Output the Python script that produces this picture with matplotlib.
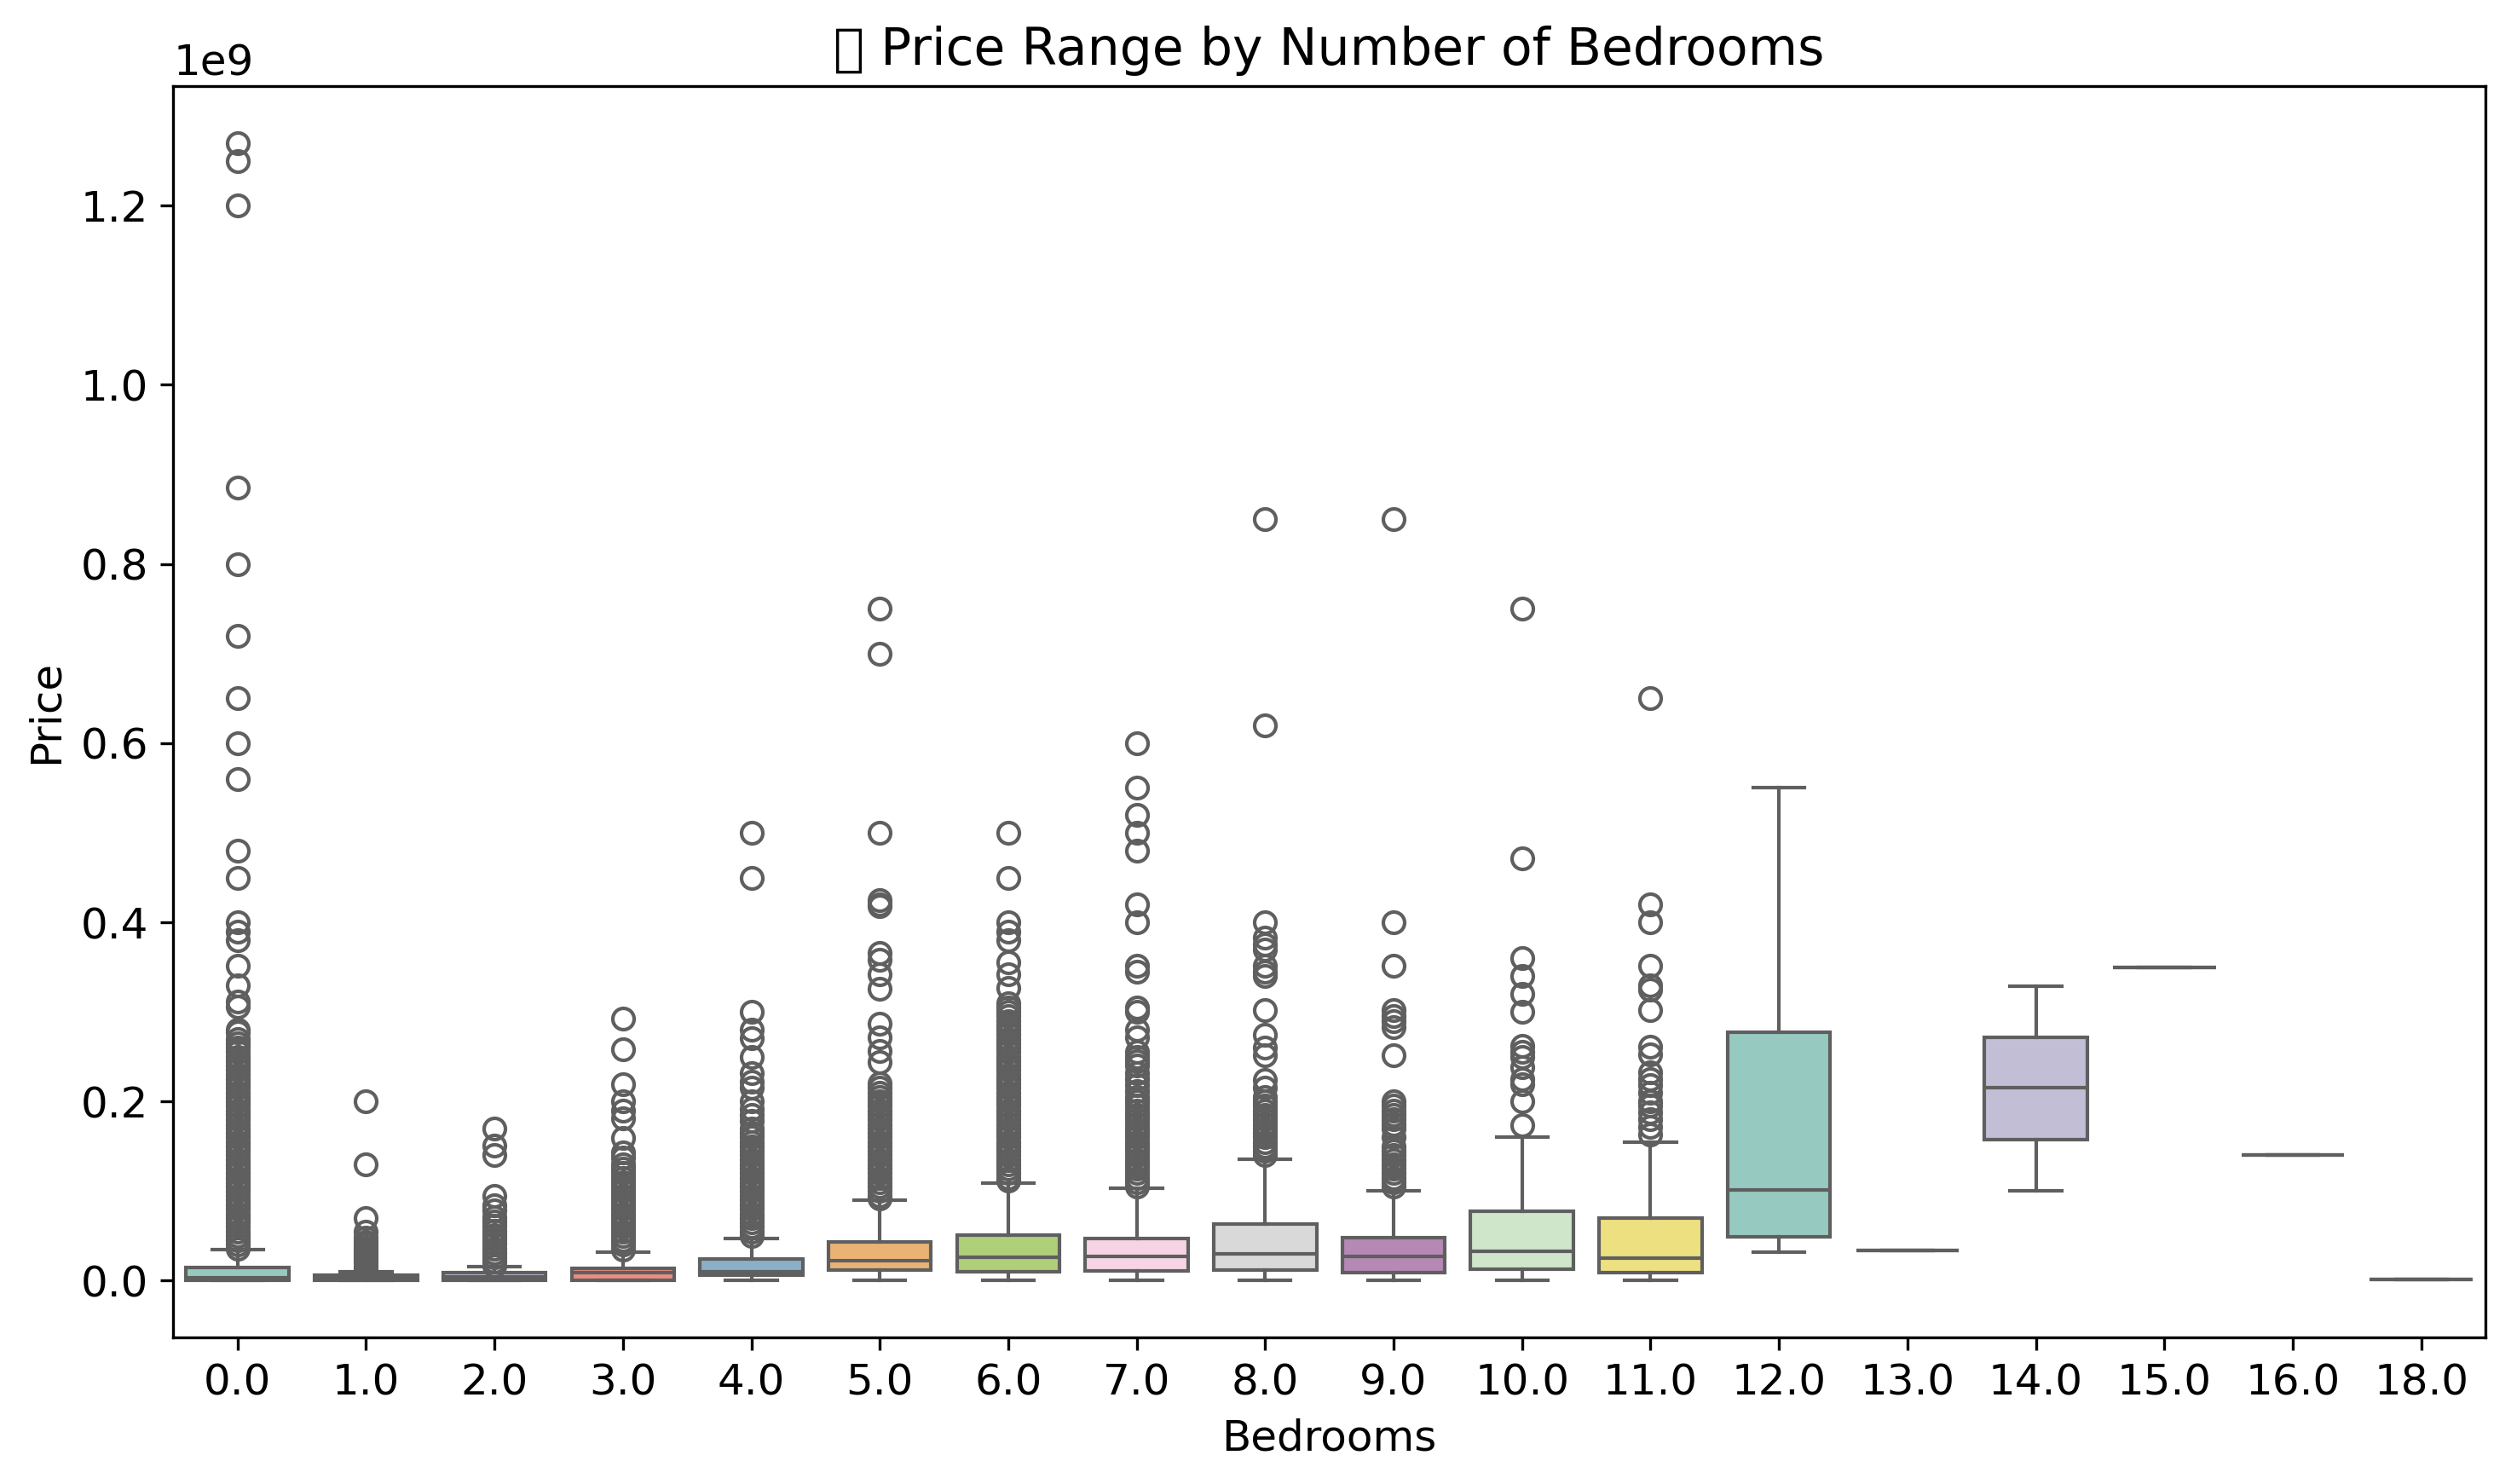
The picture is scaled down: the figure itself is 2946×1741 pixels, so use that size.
import matplotlib
matplotlib.use("Agg")
import matplotlib.pyplot as plt
import seaborn as sns

plt.rcParams["font.size"] = 12

# bedroom categories as they appear on the x axis
bedrooms = [0.0, 1.0, 2.0, 3.0, 4.0, 5.0, 6.0, 7.0, 8.0, 9.0, 10.0, 11.0,
            12.0, 13.0, 14.0, 15.0, 16.0, 18.0]

# box statistics, in millions
whislo = [0, 0, 0, 0, 0.6, 0.6, 0, 0, 0, 0, 0, 0, 31.4, 33.6, 100, 350, 140, 1.3]
q1 = [0.3, 0.3, 0.5, 0.3, 6, 11.6, 10, 11, 11.6, 9.4, 12.6, 8.5, 49.3, 33.6, 157.6, 350, 140, 1.3]
med = [3, 2, 4, 8.5, 10, 22, 25.7, 26.7, 29.8, 26.7, 32.3, 25.1, 101, 33.6, 215.7, 350, 140, 1.3]
q3 = [14.5, 6, 8.5, 14, 24, 43.6, 50.5, 47.4, 62.8, 47.7, 77.5, 69.7, 277.6, 33.6, 272, 350, 140, 1.3]
whishi = [34.4, 10, 15.7, 31.7, 46.8, 90, 109, 103, 135.3, 100, 159.8, 155, 550, 33.6, 329, 350, 140, 1.3]

# outliers, in millions
fliers = [
    [1270, 1250, 1200, 885, 800, 720, 650, 600, 560, 480, 450, 400, 390, 380,
     352, 330, 312, 306, 280, 277, 270, 265, 260, 255, 250, 245, 240, 235, 230,
     225, 220, 215, 210, 205, 200, 195, 190, 185, 180, 175, 170, 165, 160, 155,
     150, 145, 140, 135, 130, 125, 120, 115, 110, 105, 100, 95, 90, 85, 80, 75,
     70, 65, 60, 55, 50, 45, 40, 36],
    [200, 130, 70, 55, 48, 43, 40, 37, 34, 31, 28, 25, 22, 19, 16, 13],
    [170, 151, 140, 95, 84, 78, 71, 66, 61, 56, 51, 46, 41, 36, 31, 26, 21, 17],
    [293, 258, 219, 200, 190, 181, 159, 143, 137, 130, 125, 120, 115, 110, 105,
     100, 95, 90, 85, 80, 75, 70, 65, 60, 55, 50, 45, 40, 35],
    [500, 450, 300, 280, 271, 250, 232, 222, 215, 200, 192, 185, 178, 170, 165,
     160, 155, 150, 145, 140, 135, 130, 125, 120, 115, 110, 105, 100, 95, 90,
     85, 80, 75, 70, 65, 60, 55, 50],
    [750, 700, 500, 425, 420, 418, 366, 358, 342, 326, 287, 272, 256, 244, 220,
     215, 210, 205, 200, 195, 190, 185, 180, 175, 170, 165, 160, 155, 150, 145,
     140, 135, 130, 125, 120, 115, 110, 105, 100, 95, 92],
    [500, 450, 400, 390, 380, 355, 342, 327, 310, 305, 300, 295, 290, 285, 280,
     275, 270, 265, 260, 255, 250, 245, 240, 235, 230, 225, 220, 215, 210, 205,
     200, 195, 190, 185, 180, 175, 170, 165, 160, 155, 150, 145, 140, 135, 130,
     125, 120, 115, 112],
    [600, 550, 520, 500, 480, 420, 400, 352, 345, 305, 300, 280, 272, 255, 250,
     245, 240, 232, 225, 218, 212, 205, 200, 195, 190, 185, 180, 175, 170, 165,
     160, 155, 150, 145, 140, 135, 130, 125, 120, 115, 110, 105],
    [850, 620, 400, 383, 375, 370, 352, 345, 340, 302, 274, 260, 252, 224, 215,
     205, 200, 195, 190, 185, 180, 175, 170, 165, 160, 155, 150, 145, 140],
    [850, 400, 352, 302, 295, 290, 283, 252, 200, 195, 190, 185, 180, 175, 170,
     160, 150, 145, 140, 135, 130, 125, 120, 115, 110, 105],
    [750, 471, 360, 340, 320, 300, 262, 255, 250, 238, 225, 219, 200, 174],
    [650, 420, 400, 352, 330, 325, 302, 261, 253, 233, 225, 218, 210, 200, 195,
     188, 180, 172, 163],
    [], [], [], [], [], [],
]

palette = sns.color_palette("Set3", 12)
line_color = "#5f5f5f"

stats = []
for i in range(len(bedrooms)):
    stats.append({
        "whislo": whislo[i] * 1e6, "q1": q1[i] * 1e6, "med": med[i] * 1e6,
        "q3": q3[i] * 1e6, "whishi": whishi[i] * 1e6,
        "fliers": [v * 1e6 for v in fliers[i]],
    })

fig, ax = plt.subplots(figsize=(10, 6))
bp = ax.bxp(stats, positions=range(len(bedrooms)), widths=0.8,
            patch_artist=True, capwidths=0.4,
            boxprops=dict(edgecolor=line_color, linewidth=1.0),
            whiskerprops=dict(color=line_color, linewidth=1.0),
            capprops=dict(color=line_color, linewidth=1.0),
            medianprops=dict(color=line_color, linewidth=1.0),
            flierprops=dict(marker="o", markerfacecolor="none",
                            markeredgecolor=line_color, markersize=6,
                            markeredgewidth=1.0))
for i, box in enumerate(bp["boxes"]):
    box.set_facecolor(sns.desaturate(palette[i % 12], 0.75))

ax.set_xlim(-0.5, len(bedrooms) - 0.5)
ax.set_xticks(range(len(bedrooms)))
ax.set_xticklabels([str(b) for b in bedrooms])
ax.set_title("📊 Price Range by Number of Bedrooms")
ax.set_xlabel("Bedrooms")
ax.set_ylabel("Price")
plt.tight_layout()
plt.savefig("out.png", dpi=300, bbox_inches="tight")
